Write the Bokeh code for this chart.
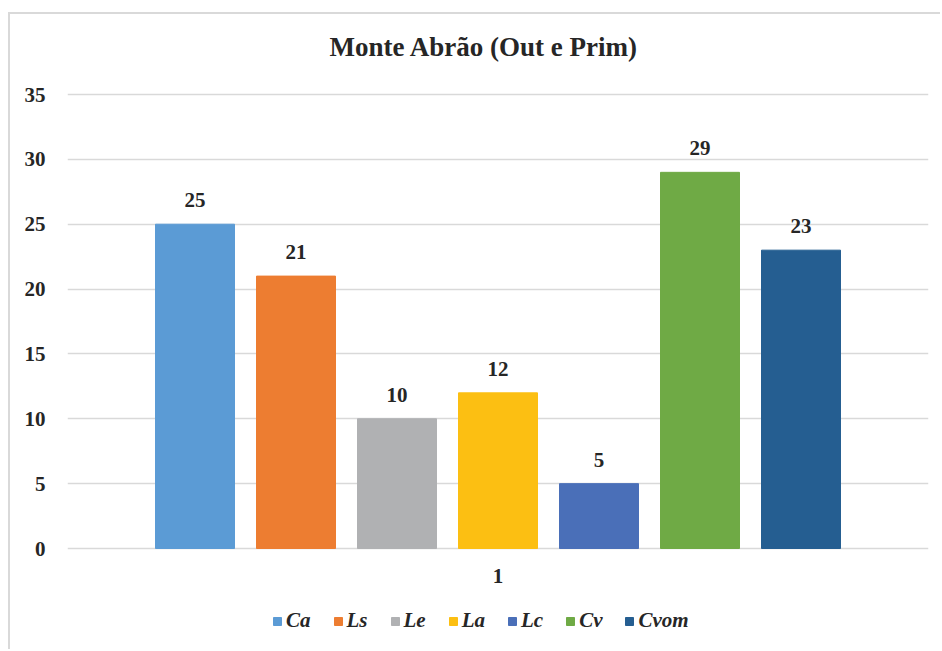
from bokeh.plotting import figure
from bokeh.models import Range1d, ColumnDataSource, FixedTicker, Legend, LegendItem
from bokeh.embed import file_html
from bokeh.resources import INLINE
from bokeh.core.properties import value

title_text = "Monte Abrão (Out e Prim)"
categories = ["Ca", "Ls", "Le", "La", "Lc", "Cv", "Cvom"]
values = [25, 21, 10, 12, 5, 29, 23]
colors = ["#5B9BD5", "#ED7D31", "#B0B1B3", "#FCBF12", "#4A6FB8", "#6FAA45", "#255E91"]
x_label = "1"
y_ticks = [0, 5, 10, 15, 20, 25, 30, 35]

FONT = "Liberation Serif"
TXT = "#262626"

xs = list(range(len(categories)))
center = (len(categories) - 1) / 2
span = 861 / 101 / 2
px_per_unit = 454 / 35
y_min = -103 / px_per_unit
y_max = max(y_ticks) + 80 / px_per_unit

p = figure(width=932, height=637, output_backend="svg", toolbar_location=None,
           x_range=Range1d(center - span, center + span), y_range=Range1d(y_min, y_max),
           min_border_left=57, min_border_right=14, min_border_top=0, min_border_bottom=0,
           styles={"margin-left": "8px", "margin-top": "12px",
                   "border-left": "2px solid #d9d9d9", "border-top": "2px solid #d9d9d9"})
p.outline_line_color = None
p.background_fill_color = "white"
p.border_fill_color = "white"

# chart title
p.text(x=[center], y=[max(y_ticks)], text=[title_text], text_align="center",
       text_baseline="middle", x_offset=-14, y_offset=-48, text_font=value(FONT),
       text_font_size="27px", text_font_style="bold", text_color=TXT)

src = ColumnDataSource(dict(x=xs, top=values, color=colors, cat=categories,
                            lbl=[str(v) for v in values]))
bars = p.vbar(x="x", top="top", width=79 / 101, color="color", source=src)
p.text(x="x", y="top", text="lbl", source=src, text_align="center", text_baseline="bottom",
       y_offset=-17, text_font=value(FONT), text_font_size="21px", text_font_style="bold",
       text_color=TXT)

# category label under the bars
p.text(x=[center], y=[0], text=[x_label], text_align="center", text_baseline="middle",
       y_offset=27, text_font=value(FONT), text_font_size="21px", text_font_style="bold",
       text_color=TXT)

p.xgrid.visible = False
p.ygrid.grid_line_color = "#d9d9d9"
p.ygrid.grid_line_width = 1.5
p.yaxis.ticker = FixedTicker(ticks=y_ticks)
p.yaxis.axis_line_color = None
p.yaxis.major_tick_line_color = None
p.yaxis.minor_tick_line_color = None
p.yaxis.major_label_standoff = 16
p.yaxis.major_label_text_font = FONT
p.yaxis.major_label_text_font_size = "21px"
p.yaxis.major_label_text_font_style = "bold"
p.yaxis.major_label_text_color = TXT
p.xaxis.visible = False

items = [LegendItem(label=c, renderers=[bars], index=i) for i, c in enumerate(categories)]
legend = Legend(items=items, orientation="horizontal", location=(205, 18),
                label_text_font=FONT, label_text_font_size="21px",
                label_text_font_style="bold italic", label_text_color=TXT,
                glyph_width=10, glyph_height=10, label_standoff=4, spacing=22,
                border_line_color=None, background_fill_alpha=0, padding=0, margin=0)
p.add_layout(legend, "center")

open("out.html", "w").write(file_html(p, INLINE))
